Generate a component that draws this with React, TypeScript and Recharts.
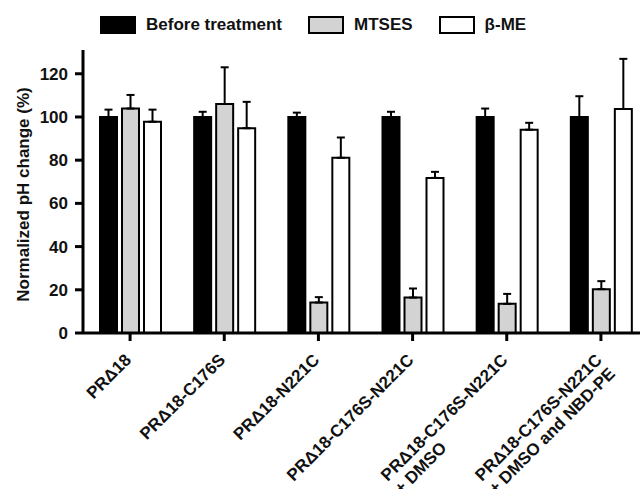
import React from "react";
import { Bar, BarChart, ErrorBar, Legend, XAxis, YAxis } from "recharts";

const FONT = '"Liberation Sans", Arial, sans-serif';
const FS = 17;

// groups along the x axis (second line after \n)
const categories = [
  "PRΔ18",
  "PRΔ18-C176S",
  "PRΔ18-N221C",
  "PRΔ18-C176S-N221C",
  "PRΔ18-C176S-N221C\n+ DMSO",
  "PRΔ18-C176S-N221C\n+ DMSO and NBD-PE",
];

const beforeValues = [100, 100, 100, 100, 100, 100];
const beforeErrors = [3.4, 2.4, 2.0, 2.4, 3.9, 9.6];
const mtsesValues = [103.9, 106.0, 14.1, 16.4, 13.5, 20.3];
const mtsesErrors = [6.3, 17.0, 2.5, 4.2, 4.6, 3.7];
const bmeValues = [97.8, 94.8, 81.1, 71.8, 94.1, 103.7];
const bmeErrors = [5.6, 12.2, 9.4, 2.8, 3.2, 23.2];

const yTicks = [0, 20, 40, 60, 80, 100, 120];

const series = [
  { key: "before", name: "Before treatment", fill: "#000000" },
  { key: "mtses", name: "MTSES", fill: "#d3d3d3" },
  { key: "bme", name: "β-ME", fill: "#ffffff" },
];

// only the upper error is drawn
const data = categories.map((name, i) => ({
  name,
  before: beforeValues[i],
  beforeErr: [0, beforeErrors[i]],
  mtses: mtsesValues[i],
  mtsesErr: [0, mtsesErrors[i]],
  bme: bmeValues[i],
  bmeErr: [0, bmeErrors[i]],
}));

let ctx: CanvasRenderingContext2D | null = null;
function textWidth(s: string) {
  if (!ctx) {
    ctx = document.createElement("canvas").getContext("2d");
  }
  if (!ctx) return s.length * 10;
  ctx.font = `bold ${FS}px ${FONT}`;
  return ctx.measureText(s).width;
}

function XTick(props: any) {
  const { x, y, payload } = props;
  const lines = String(payload.value).split("\n");
  const w = textWidth(lines[0]);
  return (
    <g transform={`translate(${x + 2},${y + 18}) rotate(-45)`}>
      <text
        textAnchor="start"
        fontSize={FS}
        fontWeight="bold"
        fontFamily={FONT}
        fill="#111"
      >
        {lines.map((l, i) => (
          <tspan key={i} x={-w} dy={i === 0 ? 0 : 19}>
            {l}
          </tspan>
        ))}
      </text>
    </g>
  );
}

function LegendBoxes() {
  return (
    <div style={{ display: "flex", alignItems: "center" }}>
      {series.map((s) => (
        <div
          key={s.key}
          style={{ display: "flex", alignItems: "center", marginRight: 26 }}
        >
          <div
            style={{
              width: 32,
              height: 14,
              background: s.fill,
              border: "2px solid #000",
              marginRight: 10,
            }}
          />
          <span
            style={{
              fontFamily: FONT,
              fontWeight: "bold",
              fontSize: FS,
              color: "#111",
            }}
          >
            {s.name}
          </span>
        </div>
      ))}
    </div>
  );
}

export default function App() {
  return (
    <div
      style={{
        position: "absolute",
        left: 0,
        top: 0,
        width: 640,
        height: 489,
        overflow: "hidden",
        background: "#fff",
      }}
    >
      <BarChart
        width={660}
        height={489}
        data={data}
        margin={{ top: 30, right: 12, bottom: 0, left: 0 }}
        barSize={17}
        barGap={5}
        style={{ fontFamily: FONT }}
      >
        <Legend
          verticalAlign="top"
          content={() => <LegendBoxes />}
          wrapperStyle={{ top: 15, left: 100, width: 560 }}
        />
        <XAxis
          dataKey="name"
          height={156}
          interval={0}
          stroke="#000"
          strokeWidth={3}
          tickSize={8}
          tick={<XTick />}
        />
        <YAxis
          width={83}
          domain={[0, 131]}
          ticks={yTicks}
          allowDataOverflow
          stroke="#000"
          strokeWidth={3}
          tickSize={8}
          tickMargin={7}
          tick={{
            fill: "#111",
            fontSize: FS,
            fontWeight: "bold",
            fontFamily: FONT,
          }}
          label={{
            content: ({ viewBox }: any) => (
              <text
                x={viewBox.x + 23}
                y={viewBox.y + viewBox.height / 2 + 3}
                transform={`rotate(-90, ${viewBox.x + 23}, ${
                  viewBox.y + viewBox.height / 2 + 3
                })`}
                textAnchor="middle"
                dominantBaseline="central"
                fontSize={FS}
                fontWeight="bold"
                fontFamily={FONT}
                fill="#111"
              >
                Normalized pH change (%)
              </text>
            ),
          }}
        />
        {series.map((s) => (
          <Bar
            key={s.key}
            dataKey={s.key}
            name={s.name}
            fill={s.fill}
            stroke="#000"
            strokeWidth={2}
            isAnimationActive={false}
          >
            <ErrorBar
              dataKey={`${s.key}Err`}
              width={4}
              stroke="#000"
              strokeWidth={2}
              direction="y"
            />
          </Bar>
        ))}
      </BarChart>
    </div>
  );
}
